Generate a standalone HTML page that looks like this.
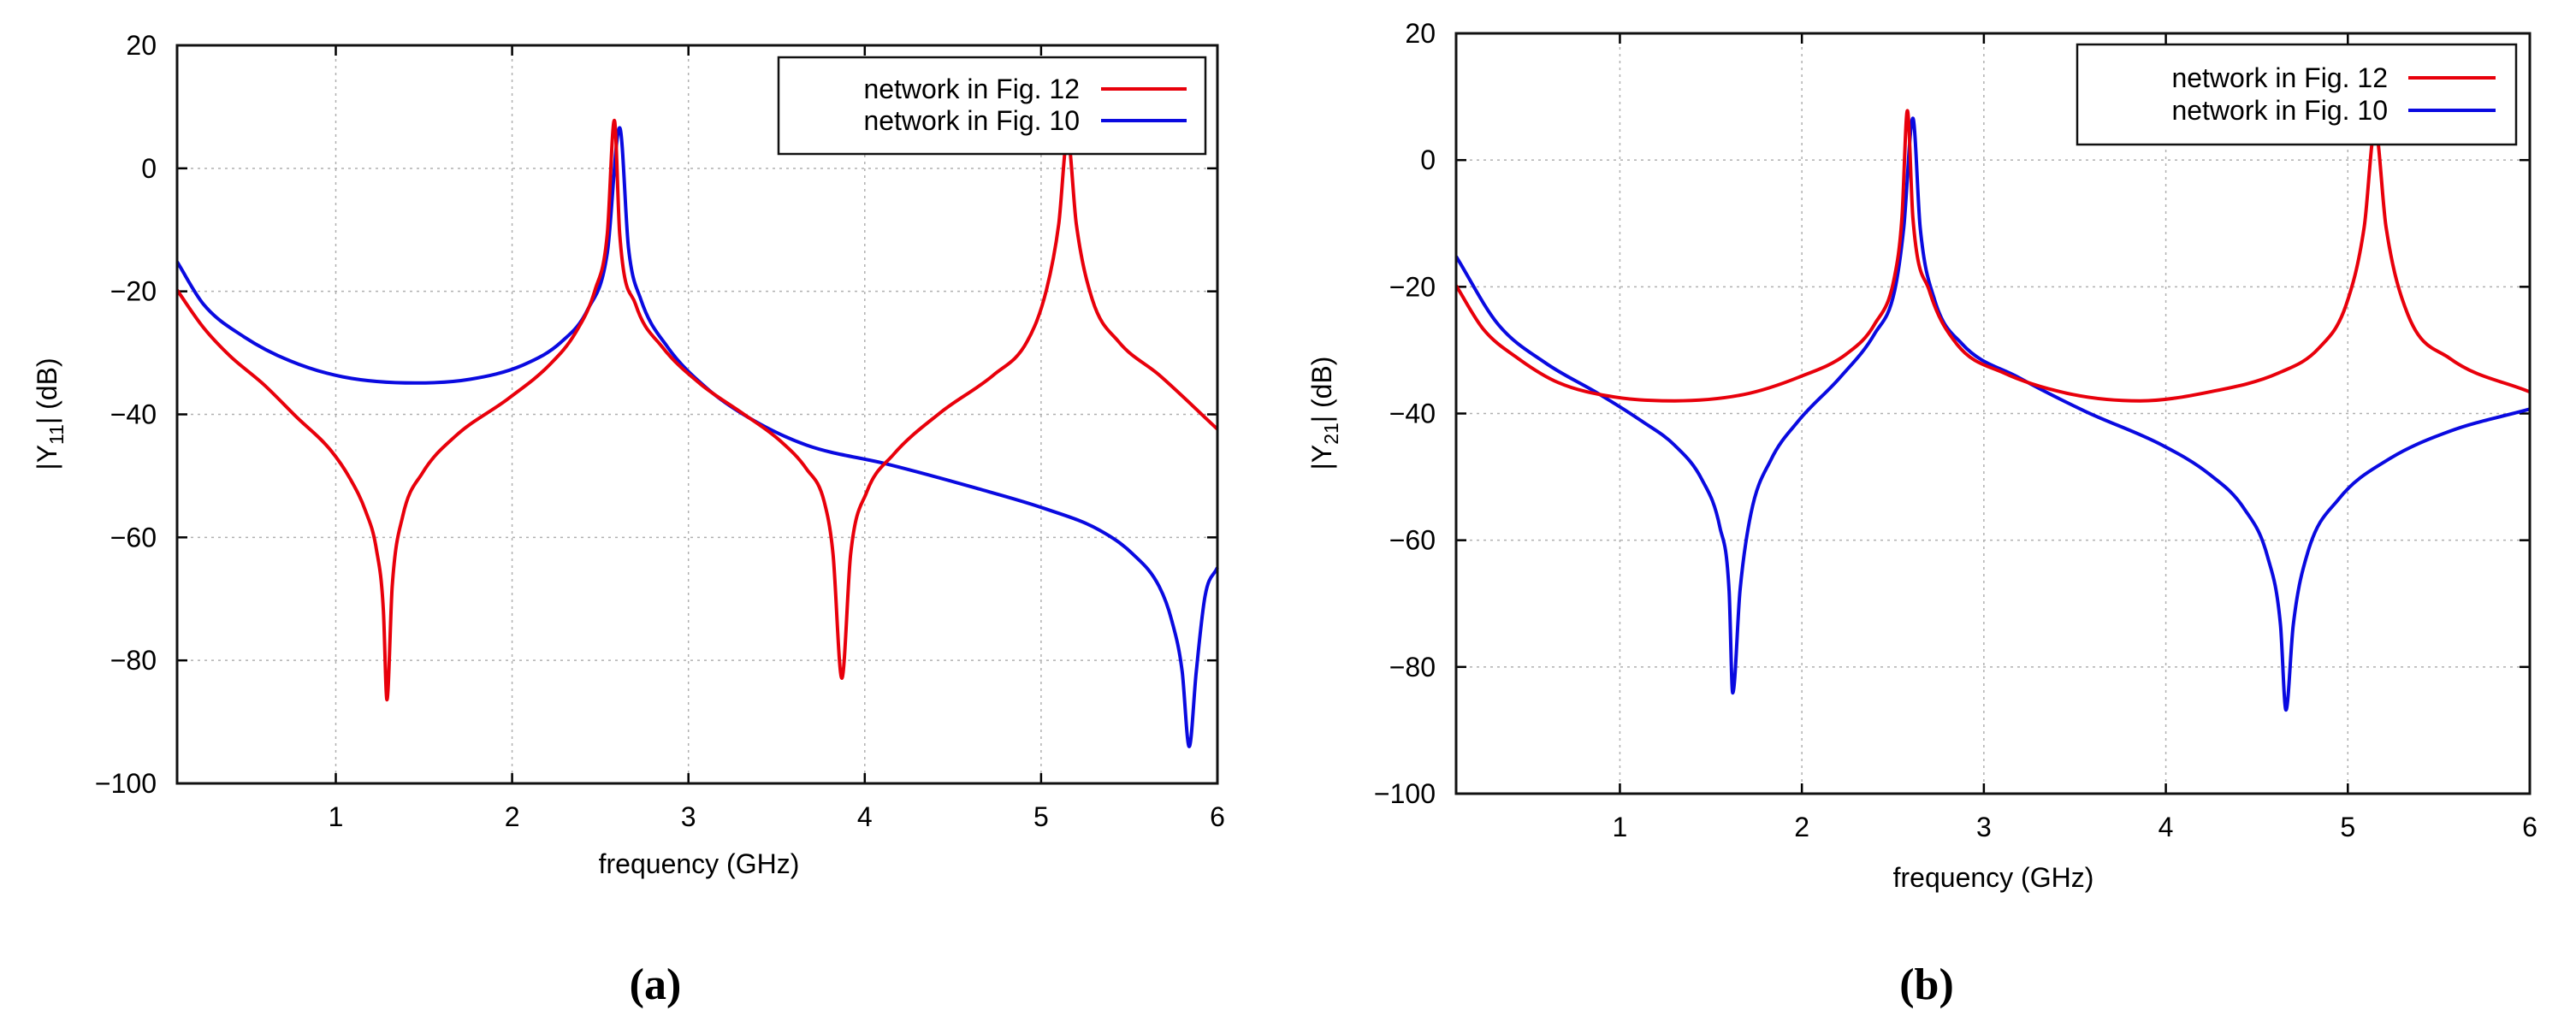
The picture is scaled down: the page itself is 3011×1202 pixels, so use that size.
<!DOCTYPE html>
<html><head><meta charset="utf-8"><style>
html,body{margin:0;padding:0;background:#fff;}
svg{display:block;}
text{font-family:"Liberation Sans",sans-serif;fill:#000;}
.cap{font-family:"Liberation Serif",serif;font-weight:bold;}
</style></head><body>
<svg id="fig" width="3011" height="1202" viewBox="0 0 3011 1202" xmlns="http://www.w3.org/2000/svg"></svg>
<script>
// ---- data ----
const xTicks = [1, 2, 3, 4, 5, 6];
const yTicks = [-100, -80, -60, -40, -20, 0, 20];
const seriesNames = ["network in Fig. 12", "network in Fig. 10"];

// Panel (a) |Y11|
const y11RedFreq = [0.1,0.25,0.40,0.59,0.78,0.97,1.08,1.17,1.23,1.27,1.29,1.32,1.38,1.49,1.68,1.98,2.21,2.36,2.47,2.54,2.58,2.61,2.70,2.85,3.07,3.30,3.52,3.67,3.77,3.82,3.87,3.92,4.01,4.16,4.43,4.73,4.92,5.03,5.10,5.15,5.20,5.29,5.44,5.67,6.0];
const y11RedVal  = [-19.8,-25.9,-30.5,-35.1,-40.5,-45.8,-50.4,-55.8,-61.9,-71.8,-86.4,-68,-56.5,-49.6,-43.5,-37.4,-32,-26.7,-19.8,-10.6,7.8,-10.6,-22.1,-29,-35.1,-39.7,-44.3,-48.9,-54.2,-62.7,-82.9,-62.7,-52.7,-46.6,-39.7,-33.6,-28.2,-19.8,-9.1,5.1,-9.1,-21.3,-28.2,-33.6,-42.4];
const y11BlueFreq = [0.1,0.25,0.48,0.74,1.04,1.45,1.76,2.06,2.28,2.43,2.54,2.61,2.66,2.73,2.88,3.11,3.34,3.67,4.13,4.62,5.03,5.33,5.52,5.67,5.74,5.80,5.84,5.88,5.93,6.0];
const y11BlueVal  = [-15.2,-22.1,-27.4,-31.3,-33.9,-34.9,-34.3,-32,-28.2,-22.9,-13.7,6.6,-12.9,-21.3,-29,-35.9,-40.5,-45,-48.1,-51.9,-55.4,-58.8,-62.7,-68,-73.4,-81.8,-94,-81.8,-69.5,-64.9];

// Panel (b) |Y21|
const y21RedFreq = [0.1,0.25,0.44,0.66,0.97,1.30,1.68,1.98,2.25,2.40,2.51,2.55,2.58,2.61,2.70,2.85,3.11,3.49,3.86,4.24,4.62,4.84,4.99,5.09,5.15,5.21,5.33,5.56,6.0];
const y21RedVal  = [-19.8,-26.7,-31.3,-35.1,-37.4,-38,-37,-34.3,-30.5,-25.9,-18.3,-9.1,7.8,-9.1,-20.6,-29,-33.6,-37,-38,-36.6,-33.6,-29.7,-22.9,-10.6,5.1,-10.6,-24.4,-31.3,-36.6];
const y21BlueFreq = [0.1,0.33,0.59,0.89,1.12,1.30,1.45,1.55,1.60,1.62,1.66,1.72,1.83,1.98,2.21,2.40,2.51,2.56,2.61,2.65,2.73,2.88,3.19,3.56,3.98,4.24,4.43,4.56,4.63,4.66,4.70,4.78,4.95,5.22,5.56,6.0];
const y21BlueVal  = [-15.2,-25.9,-32,-37,-41.2,-45,-50.4,-58,-68,-84.1,-68,-55.8,-47.3,-41.2,-34.3,-27.4,-20.6,-10.6,6.6,-10.6,-22.1,-29,-34.3,-39.7,-45,-49.6,-55,-62.7,-73.4,-86.8,-73.4,-61.9,-53.5,-47.3,-42.8,-39.3];

const NS = "http://www.w3.org/2000/svg";
const svg = document.getElementById("fig");
function mk(tag, attrs, parent){
  const e = document.createElementNS(NS, tag);
  for (const k in attrs) e.setAttribute(k, attrs[k]);
  (parent||svg).appendChild(e);
  return e;
}
const RED = "#e8000b", BLUE = "#0a0ae0";

// monotone cubic path through pixel points (no overshoot)
function monoPath(px, py){
  const n = px.length, d = [], m = [];
  for (let i = 0; i < n-1; i++) d.push((py[i+1]-py[i])/(px[i+1]-px[i]));
  m[0] = d[0]; m[n-1] = d[n-2];
  for (let i = 1; i < n-1; i++) m[i] = (d[i-1]*d[i] <= 0) ? 0 : (d[i-1]+d[i])/2;
  for (let i = 0; i < n-1; i++){
    if (d[i] === 0){ m[i] = 0; m[i+1] = 0; continue; }
    const a = m[i]/d[i], b = m[i+1]/d[i], s = a*a + b*b;
    if (s > 9){ const t = 3/Math.sqrt(s); m[i] = t*a*d[i]; m[i+1] = t*b*d[i]; }
  }
  let s = "M" + px[0].toFixed(1) + "," + py[0].toFixed(1);
  for (let i = 0; i < n-1; i++){
    const h = (px[i+1]-px[i])/3;
    s += " C" + (px[i]+h).toFixed(1) + "," + (py[i]+m[i]*h).toFixed(1) + " " +
         (px[i+1]-h).toFixed(1) + "," + (py[i+1]-m[i+1]*h).toFixed(1) + " " +
         px[i+1].toFixed(1) + "," + py[i+1].toFixed(1);
  }
  return s;
}

function panel(p){
  const g = mk("g", {});
  
  
  const X = v => p.x0 + (v - 0.1) / (6 - 0.1) * (p.x1 - p.x0);
  const Y = v => p.y1 - (v + 100) / 120 * (p.y1 - p.y0);
  xTicks.forEach(t => {
    const l = mk("line", {x1:X(t), x2:X(t), y1:p.y0, y2:p.y1, stroke:"#b0b0b0", "stroke-width":1.5, "stroke-dasharray":"3,5"}, g);
    
    
    mk("line", {x1:X(t), x2:X(t), y1:p.y1, y2:p.y1-12, stroke:"#000", "stroke-width":2.5}, g);
    mk("line", {x1:X(t), x2:X(t), y1:p.y0, y2:p.y0+12, stroke:"#000", "stroke-width":2.5}, g);
    const tx = mk("text", {x:X(t), y:p.y1+50, "font-size":32, "text-anchor":"middle"}, g);
    tx.textContent = t;
    
    
  });
  yTicks.forEach(t => {
    if (t > -100 && t < 20) {
      const l = mk("line", {x1:p.x0, x2:p.x1, y1:Y(t), y2:Y(t), stroke:"#b0b0b0", "stroke-width":1.5, "stroke-dasharray":"3,5"}, g);
      
      
    }
    mk("line", {x1:p.x0, x2:p.x0+12, y1:Y(t), y2:Y(t), stroke:"#000", "stroke-width":2.5}, g);
    mk("line", {x1:p.x1, x2:p.x1-12, y1:Y(t), y2:Y(t), stroke:"#000", "stroke-width":2.5}, g);
    const tx = mk("text", {x:p.x0-24, y:Y(t)+11, "font-size":32, "text-anchor":"end"}, g);
    tx.textContent = t < 0 ? "\u2212" + (-t) : t;
    
    
  });
  function line(fr, vals, col, name){
    const pl = mk("path", {d:monoPath(fr.map(X), vals.map(Y)), fill:"none", stroke:col, "stroke-width":4, "stroke-linejoin":"round"}, g);
    
    
  }
  line(p.blueF, p.blueV, BLUE, p.id + '-fig10-line');
  line(p.redF, p.redV, RED, p.id + '-fig12-line');
  const fr = mk("rect", {x:p.x0, y:p.y0, width:p.x1-p.x0, height:p.y1-p.y0, fill:"none", stroke:"#111", "stroke-width":3}, g);
  
  
  const lg = mk("g", {}, g);
  
  
  mk("rect", {x:p.lx0, y:p.ly0, width:p.lx1-p.lx0, height:p.ly1-p.ly0, fill:"#fff", stroke:"#111", "stroke-width":2.5}, lg);
  [[seriesNames[0], RED, p.ly[0]], [seriesNames[1], BLUE, p.ly[1]]].forEach(([nm, col, yy]) => {
    const t = mk("text", {x:p.ltx, y:yy+11, "font-size":32, "text-anchor":"end"}, lg);
    t.textContent = nm;
    
    
    mk("line", {x1:p.lsx0, x2:p.lsx1, y1:yy, y2:yy, stroke:col, "stroke-width":4}, lg);
  });
  const xt = mk("text", {x:p.xlx, y:p.xly, "font-size":32, "text-anchor":"middle", "xml:space":"preserve"}, g);
  xt.textContent = "frequency  (GHz)";
  
  
  const yt = mk("text", {x:0, y:0, "font-size":32, "text-anchor":"middle", transform:`translate(${p.ylx},${p.yly}) rotate(-90)`}, g);
  yt.innerHTML = `|Y<tspan font-size="23" dy="8">${p.sub}</tspan><tspan dy="-8">| (dB)</tspan>`;
  
  
  const cap = mk("text", {x:p.capx, y:1168, "font-size":52, "text-anchor":"middle", class:"cap"}, g);
  cap.textContent = p.cap;
  
  
}

panel({id:"y11", x0:207, x1:1423, y0:53, y1:916,
  redF:y11RedFreq, redV:y11RedVal, blueF:y11BlueFreq, blueV:y11BlueVal,
  lx0:910, lx1:1409, ly0:67, ly1:180, ly:[104,141], ltx:1262, lsx0:1287, lsx1:1387,
  xlx:817, xly:1021, ylx:66, yly:484, sub:"11", cap:"(a)", capx:766});
panel({id:"y21", x0:1702, x1:2957, y0:39, y1:928,
  redF:y21RedFreq, redV:y21RedVal, blueF:y21BlueFreq, blueV:y21BlueVal,
  lx0:2428, lx1:2941, ly0:52, ly1:169, ly:[91,129], ltx:2791, lsx0:2815, lsx1:2917,
  xlx:2330, xly:1037, ylx:1556, yly:483, sub:"21", cap:"(b)", capx:2252});
</script>
</body></html>
